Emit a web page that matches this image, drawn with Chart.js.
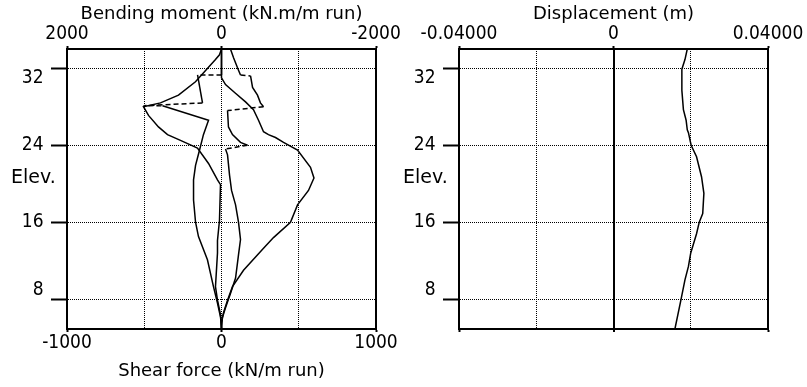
<!DOCTYPE html>
<html>
<head>
<meta charset="utf-8">
<script src="https://cdn.jsdelivr.net/npm/chart.js@4.4.0/dist/chart.umd.min.js"></script>
<style>
  html, body { margin: 0; padding: 0; background: #fff; }
  #wrap { position: relative; width: 807px; height: 387px; }
  canvas { position: absolute; top: 0; }
  #forceChart { left: 0; }
  #dispChart { left: 400px; }
</style>
</head>
<body>
<div id="wrap">
  <canvas id="forceChart" width="400" height="387"></canvas>
  <canvas id="dispChart" width="407" height="387"></canvas>
</div>
<script>
// elevation axis (shared by both panels)
const elevRange = [4.9, 34];
const elevTicks = [8, 16, 24, 32];
const elevLabel = 'Elev.';
const elevLabelAt = 20.6;

// value axes
const momentRange = [-2000, 2000];
const momentTicks = [-2000, 0, 2000];
const shearRange = [-1000, 1000];
const shearTicks = [-1000, 0, 1000];
const dispRange = [-0.04, 0.04];
const dispTicks = [-0.04, 0, 0.04];

// bending moment (kN.m/m run) as [value, elevation]
const momentA = [[0, 34], [0, 31.0], [-52, 30.3], [-181, 29.4], [-311, 28.5], [-414, 27.7], [-479, 26.6],
  [-544, 25.4], [-608, 25.1], [-699, 24.8], [-803, 24.3], [-984, 23.5], [-1152, 21.7], [-1197, 20.6],
  [-1126, 19.3], [-984, 17.8], [-893, 16.0], [-673, 14.4], [-544, 13.3], [-285, 11.0], [-142, 9.3],
  [-78, 7.9], [-26, 6.6], [0, 5.6], [0, 4.9]];
const momentB = [[0, 34], [26, 33.4], [78, 32.9], [337, 30.6], [557, 29.2], [790, 28.4], [1010, 28.0],
  [945, 27.1], [816, 25.9], [699, 25.1], [531, 24.5], [311, 23.7], [168, 22.1], [52, 20.4], [13, 19.9],
  [26, 16.2], [52, 14.1], [52, 12.8], [78, 9.3], [52, 7.9], [13, 6.4], [0, 4.9]];

// shear force (kN/m run) as [value, elevation]
const shearA = [[0, 34], [0, 31.3], [-155, 31.3], [-123, 28.4], [-505, 28.1], [-382, 28.1], [-84, 26.6],
  [-117, 25.1], [-142, 23.5], [-168, 21.9], [-181, 20.4], [-181, 18.3], [-168, 16.0], [-149, 14.5],
  [-91, 12.1], [-52, 9.3], [-26, 7.6], [-6, 6.1], [0, 4.9]];
const shearB = [[58, 34], [78, 33.1], [110, 31.8], [123, 31.3], [188, 31.2], [201, 30.0], [233, 29.2],
  [252, 28.4], [272, 28.0], [39, 27.6], [45, 25.9], [71, 25.1], [123, 24.3], [168, 24.0], [26, 23.6],
  [39, 23.0], [52, 20.9], [65, 19.3], [91, 17.8], [110, 16.0], [123, 14.2], [110, 12.6], [91, 10.2],
  [58, 8.6], [26, 7.1], [6, 6.1], [0, 4.9]];

// displacement (m) as [value, elevation]
const displacement = [[0.0191, 34], [0.0185, 32.9], [0.0177, 31.9], [0.0177, 29.7], [0.0181, 27.7],
  [0.0188, 26.6], [0.0191, 25.6], [0.0194, 25.3], [0.0201, 24.0], [0.0215, 22.8], [0.0228, 20.7],
  [0.0234, 19.0], [0.0231, 16.9], [0.0222, 16.0], [0.0215, 14.8], [0.0200, 12.8], [0.0194, 11.4],
  [0.0185, 10.0], [0.0175, 8.0], [0.0159, 4.9]];

Chart.defaults.font.family = '"DejaVu Sans", sans-serif';
Chart.defaults.font.size = 18;
Chart.defaults.color = '#000';

const black = '#000';
const dots = [1, 1];
const FIGSP = '\u2007';
const tickFont = { family: '"DejaVu Sans Condensed", "DejaVu Sans", sans-serif', size: 19, lineHeight: 1 };
const captionFont = { family: '"DejaVu Sans", sans-serif', size: 19, lineHeight: 1 };
const titleFont = { family: '"DejaVu Sans", sans-serif', size: 18 };
const toXY = arr => arr.map(p => ({ x: p[0], y: p[1] }));
const isIn = (v, arr) => arr.some(t => Math.abs(t - v) < 1e-9);

// elevation axis: labels start at the axis' left edge, numbers padded with figure spaces
// so they line up on the right; top number sits under its tick, bottom one above.
function elevAxis(width) {
  return {
    type: 'linear',
    position: 'left',
    min: elevRange[0],
    max: elevRange[1],
    afterFit: s => { s.width = width; },
    afterBuildTicks: s => {
      s.ticks = elevTicks.concat([elevLabelAt]).sort((a, b) => a - b).map(v => ({ value: v }));
    },
    ticks: {
      crossAlign: 'far',
      padding: -6,
      font: ctx => ctx.tick && ctx.tick.value === elevLabelAt ? captionFont : tickFont,
      callback: v => {
        if (v === elevLabelAt) return elevLabel;
        const s = String(v).padStart(3, FIGSP);
        if (v === elevTicks[elevTicks.length - 1]) return ['', s];
        if (v === elevTicks[0]) return [s, ''];
        return s;
      }
    },
    grid: {
      color: ctx => ctx.tick && isIn(ctx.tick.value, elevTicks) ? black : 'transparent',
      tickColor: ctx => ctx.tick && isIn(ctx.tick.value, elevTicks) ? black : 'transparent',
      lineWidth: 1,
      tickWidth: 2,
      tickLength: 16,
      tickBorderDash: []
    },
    border: { color: black, width: 2, dash: dots }
  };
}

function rightEdge(width) {
  return {
    type: 'linear',
    position: 'right',
    display: true,
    afterFit: s => { s.width = width; },
    ticks: { display: false },
    grid: { display: false },
    border: { color: black, width: 2 }
  };
}

const lineStyle = { showLine: true, pointRadius: 0, borderColor: black, borderWidth: 1.5, fill: false };
// jumps at prop levels are drawn dashed
const jumpDash = ctx => Math.abs(ctx.p1.y - ctx.p0.y) < 0.3 * Math.abs(ctx.p1.x - ctx.p0.x) ? [5, 3] : [];

const common = {
  responsive: false,
  animation: false,
  devicePixelRatio: 1,
  events: [],
  plugins: { legend: { display: false }, tooltip: { enabled: false } }
};

// left panel: bending moment (top axis) and shear force (bottom axis)
new Chart(document.getElementById('forceChart'), {
  type: 'scatter',
  data: {
    datasets: [
      { ...lineStyle, label: 'Bending moment A', data: toXY(momentA), xAxisID: 'xm', yAxisID: 'y' },
      { ...lineStyle, label: 'Bending moment B', data: toXY(momentB), xAxisID: 'xm', yAxisID: 'y' },
      { ...lineStyle, label: 'Shear force A', data: toXY(shearA), xAxisID: 'x', yAxisID: 'y', segment: { borderDash: jumpDash } },
      { ...lineStyle, label: 'Shear force B', data: toXY(shearB), xAxisID: 'x', yAxisID: 'y', segment: { borderDash: jumpDash } }
    ]
  },
  options: {
    ...common,
    layout: { padding: { left: 11, right: 0, top: 0, bottom: 0 } },
    scales: {
      xm: {
        type: 'linear',
        position: 'top',
        min: momentRange[0],
        max: momentRange[1],
        reverse: true,
        afterFit: s => { s.height = 49; },
        afterBuildTicks: s => { s.ticks = momentTicks.map(v => ({ value: v })); },
        ticks: { padding: 2, font: tickFont, callback: v => String(v) },
        grid: { drawOnChartArea: false, tickLength: 3, tickWidth: 2, tickColor: black },
        border: { color: black, width: 2 },
        title: { display: true, text: 'Bending moment (kN.m/m run)', font: titleFont, padding: { top: 4, bottom: 0 } }
      },
      x: {
        type: 'linear',
        position: 'bottom',
        min: shearRange[0],
        max: shearRange[1],
        afterFit: s => { s.height = 58; },
        ticks: { stepSize: 500, padding: 2, font: tickFont, callback: v => isIn(v, shearTicks) ? String(v) : '' },
        grid: {
          color: black,
          lineWidth: 1,
          tickLength: 3,
          tickWidth: 2,
          tickBorderDash: [],
          tickColor: ctx => ctx.tick && isIn(ctx.tick.value, shearTicks) ? black : 'transparent'
        },
        border: { color: black, width: 2, dash: dots },
        title: { display: true, text: 'Shear force (kN/m run)', font: titleFont, padding: { top: 0, bottom: 5 } }
      },
      y: elevAxis(56),
      yr: rightEdge(24)
    }
  }
});

// right panel: displacement
new Chart(document.getElementById('dispChart'), {
  type: 'scatter',
  data: {
    datasets: [
      { ...lineStyle, label: 'Displacement', data: toXY(displacement), xAxisID: 'x', yAxisID: 'y' }
    ]
  },
  options: {
    ...common,
    layout: { padding: { left: 3, right: 0, top: 0, bottom: 0 } },
    scales: {
      xd: {
        type: 'linear',
        position: 'top',
        min: dispRange[0],
        max: dispRange[1],
        afterFit: s => { s.height = 49; },
        afterBuildTicks: s => { s.ticks = dispTicks.map(v => ({ value: v })); },
        ticks: { padding: 2, font: tickFont, callback: v => Math.abs(v) < 1e-12 ? '0' : v.toFixed(5) },
        grid: { drawOnChartArea: false, tickLength: 3, tickWidth: 2, tickColor: black },
        border: { color: black, width: 2 },
        title: { display: true, text: 'Displacement (m)', font: titleFont, padding: { top: 4, bottom: 0 } }
      },
      x: {
        type: 'linear',
        position: 'bottom',
        min: dispRange[0],
        max: dispRange[1],
        afterFit: s => { s.height = 58; },
        ticks: { display: false, stepSize: 0.02 },
        grid: {
          color: black,
          lineWidth: ctx => ctx.tick && Math.abs(ctx.tick.value) < 1e-12 ? 2 : 1,
          tickLength: 3,
          tickWidth: 2,
          tickBorderDash: [],
          tickColor: ctx => ctx.tick && isIn(ctx.tick.value, dispTicks) ? black : 'transparent'
        },
        border: {
          color: black,
          width: 2,
          dash: ctx => ctx.tick && Math.abs(ctx.tick.value) < 1e-12 ? [] : dots
        }
      },
      y: elevAxis(56),
      yr: rightEdge(39)
    }
  }
});
</script>
</body>
</html>
